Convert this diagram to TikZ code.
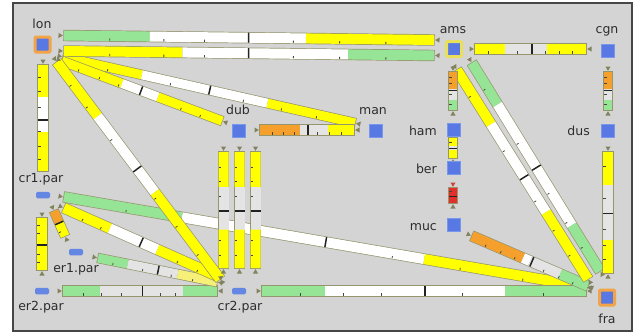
\documentclass[tikz,border=0pt]{standalone}
\usepackage{fontspec}
\setmainfont{DejaVu Sans}
\usetikzlibrary{calc}
\definecolor{bgc}{RGB}{212,212,212}
\definecolor{framec}{RGB}{70,70,70}
\definecolor{edgec}{RGB}{150,150,110}
\definecolor{ylc}{RGB}{255,255,0}
\definecolor{lyc}{RGB}{246,240,120}
\definecolor{grc}{RGB}{150,228,150}
\definecolor{whc}{RGB}{255,255,255}
\definecolor{lgc}{RGB}{228,228,228}
\definecolor{orc}{RGB}{245,160,45}
\definecolor{rdc}{RGB}{228,45,45}
\definecolor{tickc}{RGB}{70,70,60}
\definecolor{tkc}{RGB}{35,35,35}
\definecolor{tric}{RGB}{130,130,95}
\definecolor{trrc}{RGB}{200,70,60}
\definecolor{bluec}{RGB}{88,120,228}
\definecolor{blued}{RGB}{120,150,235}
\definecolor{bluep}{RGB}{100,135,228}
\definecolor{ringo}{RGB}{242,164,70}
\definecolor{ringy}{RGB}{232,224,92}
\definecolor{labc}{RGB}{45,45,45}
\newcommand\lbar[6]{%
  \pgfmathsetmacro\lbw{#3}%
  \pgfmathsetmacro\lbo{#3+1.4}%
  \pgfmathsetmacro\lbh{#3/2-0.4}%
  \pgfmathsetmacro\lbi{#3/2-2.6}%
  \draw[line width=\lbo pt, draw=edgec, shorten <=-0.7pt, shorten >=-0.7pt] (#1) -- (#2);
  \foreach \ta/\tb/\cc in {#4}{\draw[line width=\lbw pt, draw=\cc] ($(#1)!\ta!(#2)$) -- ($(#1)!\tb!(#2)$);}
  \foreach \tt in {#6}{\coordinate (lbt) at ($(#1)!\tt!(#2)$);
    \draw[line width=0.8pt, draw=tickc] ($(lbt)!\lbh pt!-90:(#2)$) -- ($(lbt)!\lbi pt!-90:(#2)$);}
  \foreach \tt in {#5}{\coordinate (lbk) at ($(#1)!\tt!(#2)$);
    \draw[line width=\lbw pt, draw=tkc] (lbk) -- ($(lbk)!1.5pt!(#2)$);}
}
\newcommand\ltri[3][tric]{%
  \coordinate (tra) at ($(#2)!-1.2pt!(#3)$);
  \coordinate (trb) at ($(#2)!-5.5pt!(#3)$);
  \fill[#1] (tra) -- ($(trb)!2.6pt!90:(#2)$) -- ($(trb)!2.6pt!-90:(#2)$) -- cycle;
}
\tikzset{
  bsq/.style={rectangle, minimum size=13pt, inner sep=0, fill=bluec, draw=blued, line width=0.6pt},
  ringnode/.style={rectangle, minimum size=15pt, inner sep=0, fill=bluec, draw=#1, line width=3pt, rounded corners=1pt},
  pnode/.style={rectangle, rounded corners=1.5pt, minimum width=14pt, minimum height=6.5pt, inner sep=0, fill=bluep},
  lab/.style={font=\fontsize{12.5}{14}\selectfont, text=labc, inner sep=0},
}
\begin{document}
\begin{tikzpicture}[x=1pt,y=-1pt]
\useasboundingbox (0,0) rectangle (638,335);
\fill[white] (0,0) rectangle (638,335);
\draw[line width=2pt, draw=framec, fill=bgc] (13,3) rectangle (632,331);

% bar end coordinates
\coordinate (b1s) at (64,35.5);  \coordinate (b1e) at (434,40);
\coordinate (b2s) at (64,51);    \coordinate (b2e) at (434,55.5);
\coordinate (b3s) at (475,49);   \coordinate (b3e) at (586,49);
\coordinate (b4s) at (43,65);    \coordinate (b4e) at (43,171);
\coordinate (b5s) at (57,62);    \coordinate (b5e) at (220,279);
\coordinate (b6s) at (63,57);    \coordinate (b6e) at (355,123);
\coordinate (b7s) at (62,61);    \coordinate (b7e) at (222,121);
\coordinate (b8s) at (260,130);  \coordinate (b8e) at (354,130);
\coordinate (b9as) at (223.5,152); \coordinate (b9ae) at (223.5,268);
\coordinate (b9bs) at (239.5,152); \coordinate (b9be) at (239.5,268);
\coordinate (b9cs) at (255.5,152); \coordinate (b9ce) at (255.5,268);
\coordinate (b10s) at (453,72);  \coordinate (b10e) at (453,110);
\coordinate (b11s) at (608,72);  \coordinate (b11e) at (608,110);
\coordinate (b12s) at (453,138); \coordinate (b12e) at (453,158);
\coordinate (b13s) at (453,188); \coordinate (b13e) at (453,203);
\coordinate (b14s) at (608,152); \coordinate (b14e) at (608,273);
\coordinate (b15s) at (457,70);  \coordinate (b15e) at (588,279);
\coordinate (b16s) at (472,63);  \coordinate (b16e) at (600,271);
\coordinate (b17s) at (472,236); \coordinate (b17e) at (588,286);
\coordinate (b18s) at (64,197);  \coordinate (b18e) at (586,287);
\coordinate (b19s) at (262,291); \coordinate (b19e) at (586,291);
\coordinate (b20s) at (63,291);  \coordinate (b20e) at (217,291);
\coordinate (b21s) at (98,258);  \coordinate (b21e) at (217,282);
\coordinate (b22s) at (64,208);  \coordinate (b22e) at (217,276);
\coordinate (b23s) at (54,211);  \coordinate (b23e) at (65,236);
\coordinate (b24s) at (42,218);  \coordinate (b24e) at (42,270);

% bars
\lbar{b18s}{b18e}{10}{0/0.226/grc,0.226/0.69/whc,0.69/1/ylc}{0.5}{0.12,0.37,0.63,0.76,0.88}
\lbar{b19s}{b19e}{10}{0/0.195/grc,0.195/0.75/whc,0.75/1/grc}{0.5}{0.12,0.25,0.37,0.62,0.87}
\lbar{b17s}{b17e}{10}{0/0.44/orc,0.44/0.5/whc,0.5/0.76/lgc,0.76/1/grc}{0.51}{0.13,0.26,0.38,0.63,0.76,0.88}
\lbar{b15s}{b15e}{10}{0/0.26/ylc,0.26/0.68/whc,0.68/1/ylc}{0.51}{0.12,0.38,0.62,0.76,0.88}
\lbar{b16s}{b16e}{10}{0/0.2/grc,0.2/0.78/whc,0.78/1/grc}{0.5}{0.12,0.38,0.62,0.76,0.88}
\lbar{b14s}{b14e}{10}{0/0.27/ylc,0.27/0.73/lgc,0.73/1/ylc}{0.5}{0.12,0.38,0.64,0.77,0.89}
\lbar{b20s}{b20e}{10}{0/0.24/grc,0.24/0.78/lgc,0.78/1/grc}{0.51}{0.13,0.25,0.38,0.63,0.73}
\lbar{b21s}{b21e}{9}{0/0.25/grc,0.25/0.67/lgc,0.67/1/lyc}{0.5}{0.13,0.38,0.62,0.8}
\lbar{b22s}{b22e}{10}{0/0.3/ylc,0.3/0.61/whc,0.61/1/ylc}{0.5}{0.13,0.25,0.75,0.88}
\lbar{b23s}{b23e}{9}{0/0.45/orc,0.45/1/ylc}{0.45}{0.8}
\lbar{b24s}{b24e}{10}{0/1/ylc}{0.5}{0.15,0.3,0.7,0.85}
\lbar{b9as}{b9ae}{10}{0/0.3/ylc,0.3/0.67/lgc,0.67/1/ylc}{0.5}{0.13,0.25,0.38,0.76,0.89}
\lbar{b9bs}{b9be}{10}{0/0.3/ylc,0.3/0.67/lgc,0.67/1/ylc}{0.5}{0.13,0.25,0.38,0.76,0.89}
\lbar{b9cs}{b9ce}{10}{0/0.3/ylc,0.3/0.67/lgc,0.67/1/ylc}{0.5}{0.13,0.25,0.38,0.76,0.89}
\lbar{b6s}{b6e}{9}{0/0.27/ylc,0.27/0.7/whc,0.7/1/ylc}{0.5}{0.155,0.37,0.62,0.75,0.87}
\lbar{b7s}{b7e}{9}{0/0.375/ylc,0.375/0.6/whc,0.6/1/ylc}{0.49}{0.11,0.24,0.36,0.75,0.87}
\lbar{b5s}{b5e}{10}{0/0.25/ylc,0.25/0.6/whc,0.6/1/ylc}{0.49}{0.1,0.2,0.35,0.62,0.75,0.88}
\lbar{b4s}{b4e}{10}{0/0.3/ylc,0.3/0.63/whc,0.63/1/ylc}{0.51}{0.12,0.25,0.4,0.63,0.77,0.89}
\lbar{b1s}{b1e}{10}{0/0.232/grc,0.232/0.654/whc,0.654/1/ylc}{0.497}{0.124,0.27,0.38,0.62,0.745,0.87}
\lbar{b2s}{b2e}{10}{0/0.32/ylc,0.32/0.768/whc,0.768/1/grc}{0.497}{0.124,0.27,0.38,0.62,0.745,0.87}
\lbar{b3s}{b3e}{10}{0/0.27/ylc,0.27/0.65/lgc,0.65/1/ylc}{0.505}{0.12,0.38,0.63,0.76,0.88}
\lbar{b8s}{b8e}{10}{0/0.43/orc,0.43/0.72/lgc,0.72/1/ylc}{0.5}{0.13,0.245,0.37,0.61,0.74,0.87}
\lbar{b10s}{b10e}{8}{0/0.45/orc,0.45/0.73/lgc,0.73/1/grc}{0.47}{0.15,0.3,0.6,0.85}
\lbar{b11s}{b11e}{8}{0/0.45/orc,0.45/0.73/lgc,0.73/1/grc}{0.47}{0.15,0.3,0.6,0.85}
\lbar{b12s}{b12e}{8}{0/0.4/ylc,0.4/0.6/lgc,0.6/1/ylc}{0.48}{0.2}
\lbar{b13s}{b13e}{8}{0/1/rdc}{0.5}{0.2}

% end triangles (pointing into the bars)
\foreach \b in {b1,b2,b3,b5,b6,b7,b8,b9a,b9b,b9c,b10,b11,b12,b14,b15,b16,b17,b18,b19,b20,b21,b22,b23,b24}{
  \ltri{\b s}{\b e}
  \ltri{\b e}{\b s}
}
\ltri{b4s}{b4e}
\ltri[trrc]{b13s}{b13e}
\ltri{b13e}{b13s}

% nodes
\node[ringnode=ringo] (lon) at (42.5,44.5) {};
\node[ringnode=ringy] (ams) at (454,49) {};
\node[bsq] (cgn) at (608,50.5) {};
\node[bsq] (dub) at (239,131) {};
\node[bsq] (man) at (375.5,131) {};
\node[bsq] (ham) at (454,130) {};
\node[bsq] (ber) at (454,168) {};
\node[bsq] (muc) at (454,225) {};
\node[bsq] (dus) at (608,130.5) {};
\node[ringnode=ringo] (fra) at (607,297.5) {};
\node[pnode] (cr1) at (43,195) {};
\node[pnode] (er1) at (76,252) {};
\node[pnode] (er2) at (42,291) {};
\node[pnode] (cr2) at (239,291) {};

% labels
\node[lab, anchor=base] (lonlab) at (42,28) {lon};
\node[lab, anchor=base] (amslab) at (453,33) {ams};
\node[lab, anchor=base] (cgnlab) at (607,33) {cgn};
\node[lab, anchor=base] (dublab) at (238,114) {dub};
\node[lab, anchor=base] (manlab) at (373,114) {man};
\node[lab, anchor=base east] (hamlab) at (437,135) {ham};
\node[lab, anchor=base east] (berlab) at (437,173) {ber};
\node[lab, anchor=base east] (muclab) at (437,230) {muc};
\node[lab, anchor=base east] (duslab) at (590,135.5) {dus};
\node[lab, anchor=base] (fralab) at (607,323) {fra};
\node[lab, anchor=base] (cr1lab) at (41,182) {cr1.par};
\node[lab, anchor=base] (er1lab) at (76,272) {er1.par};
\node[lab, anchor=base] (er2lab) at (41,310) {er2.par};
\node[lab, anchor=base] (cr2lab) at (240,310) {cr2.par};
\end{tikzpicture}
\end{document}
